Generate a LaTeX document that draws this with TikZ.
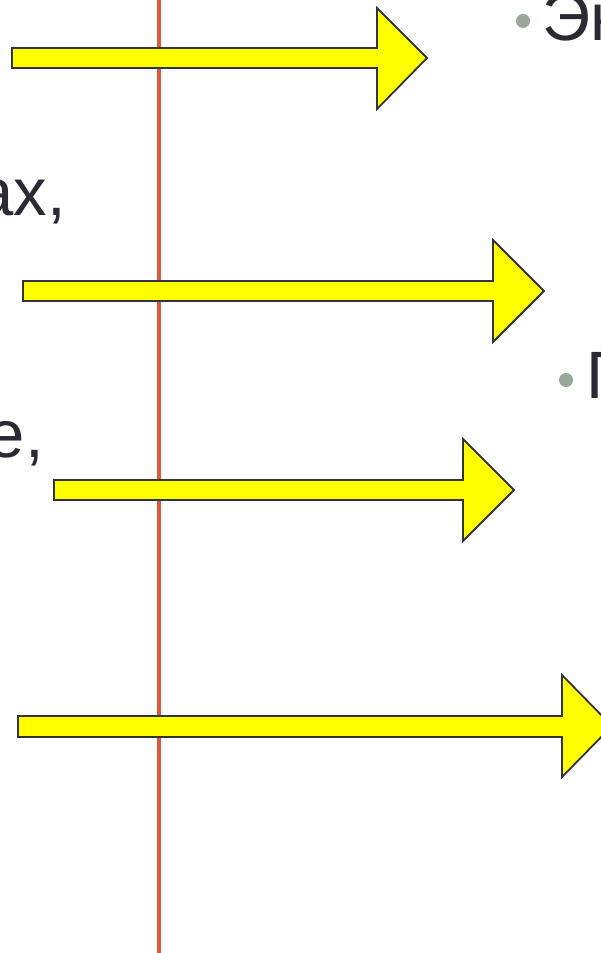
\documentclass[tikz,border=0pt]{standalone}
\usepackage{fontspec}
\setmainfont{Liberation Sans}
\definecolor{redline}{HTML}{D95A3C}
\definecolor{arrowyellow}{HTML}{FFFF00}
\definecolor{arrowedge}{HTML}{33333B}
\definecolor{txt}{HTML}{2A2A35}
\definecolor{bulletc}{HTML}{9AA89B}
\begin{document}
\begin{tikzpicture}[x=1pt,y=-1pt,
  fatarrow/.style={fill=arrowyellow,draw=arrowedge,line width=1.8pt,line join=miter},
  label/.style={inner sep=0pt,text=txt,font=\fontsize{67}{67}\selectfont},
  bulletdot/.style={fill=bulletc,draw=none}]
\useasboundingbox (0,0) rectangle (601,953);
\clip (0,0) rectangle (601,953);
\fill[white] (0,0) rectangle (601,953);
% vertical red line
\coordinate (ltop) at (158.7,0);
\coordinate (lbot) at (158.7,953);
\draw[redline,line width=4pt] (ltop) -- (lbot);
% arrows
\draw[fatarrow] (12,48) -- (377,48) -- (377,8) -- (427,58) -- (377,109) -- (377,68) -- (12,68) -- cycle;
\draw[fatarrow] (23,281) -- (493,281) -- (493,240) -- (544,291) -- (493,342) -- (493,301) -- (23,301) -- cycle;
\draw[fatarrow] (54,480) -- (463,480) -- (463,439) -- (514,490) -- (463,541) -- (463,500) -- (54,500) -- cycle;
\draw[fatarrow] (18,716) -- (562,716) -- (562,675) -- (612,726) -- (562,777) -- (562,737) -- (18,737) -- cycle;
% texts
\node[label,anchor=base east] (t1) at (66,215) {ах,};
\node[label,anchor=base east] (t2) at (44,457) {е,};
\fill[bulletdot] (523,21) circle (7);
\node[label,anchor=base west] (t3) at (542,40) {Эн};
\fill[bulletdot] (566,380) circle (7);
\node[label,anchor=base west] (t4) at (586,398) {П};
\end{tikzpicture}
\end{document}
